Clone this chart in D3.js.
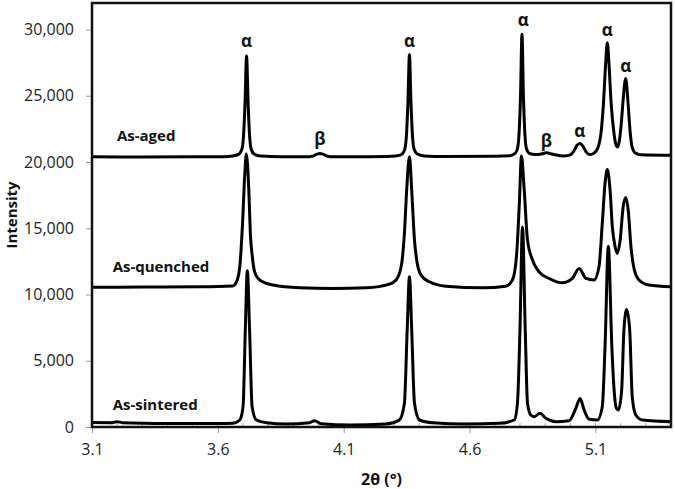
<!DOCTYPE html>
<html>
<head>
<meta charset="utf-8">
<script src="https://cdn.jsdelivr.net/npm/d3@7"></script>
<style>
  body { margin: 0; background: #fff; }
  text { font-family: "Open Sans", sans-serif; }
</style>
</head>
<body>
<div id="chart"></div>
<script>
// XRD patterns, [2θ (°), intensity]
const asAged = [
  [3.100, 20390], [3.300, 20380], [3.500, 20390], [3.620, 20400], [3.660, 20450],
  [3.684, 20600], [3.696, 21000], [3.702, 22000], [3.708, 24500], [3.714, 28000],
  [3.720, 24500], [3.726, 22000], [3.732, 21000], [3.744, 20600], [3.770, 20450],
  [3.850, 20390], [3.950, 20390], [3.975, 20430], [3.993, 20590], [4.005, 20640],
  [4.017, 20590], [4.035, 20440], [4.060, 20390], [4.200, 20400], [4.290, 20430],
  [4.320, 20500], [4.334, 20650], [4.343, 21000], [4.349, 22000], [4.355, 24500],
  [4.361, 28100], [4.367, 24500], [4.373, 22000], [4.379, 21000], [4.391, 20620],
  [4.420, 20460], [4.500, 20420], [4.700, 20440], [4.760, 20480], [4.781, 20650],
  [4.790, 21000], [4.796, 22000], [4.802, 24800], [4.808, 29650], [4.814, 24800],
  [4.820, 22000], [4.826, 21000], [4.838, 20650], [4.860, 20560], [4.885, 20600],
  [4.905, 20690], [4.930, 20590], [4.975, 20460], [5.000, 20540], [5.015, 20850],
  [5.026, 21250], [5.038, 21400], [5.050, 21200], [5.062, 20780], [5.076, 20560],
  [5.092, 20640], [5.110, 21100], [5.122, 22200], [5.132, 24500], [5.140, 27300],
  [5.147, 29000], [5.154, 27300], [5.162, 24500], [5.172, 22400], [5.180, 21400],
  [5.187, 21140], [5.194, 21500], [5.202, 22800], [5.210, 24700], [5.220, 26300],
  [5.230, 24300], [5.238, 22200], [5.246, 21100], [5.258, 20680], [5.280, 20550],
  [5.400, 20510]
];

const asQuenched = [
  [3.100, 10540], [3.300, 10560], [3.528, 10580], [3.659, 10650], [3.674, 10960],
  [3.687, 12090], [3.698, 15360], [3.707, 19130], [3.713, 20600], [3.723, 17870],
  [3.729, 14610], [3.737, 12840], [3.746, 11710], [3.766, 11090], [3.819, 10710],
  [3.925, 10510], [4.056, 10460], [4.189, 10510], [4.282, 10785], [4.308, 11090],
  [4.328, 12090], [4.341, 14610], [4.350, 17870], [4.361, 20400], [4.370, 17870],
  [4.381, 14100], [4.390, 12590], [4.407, 11460], [4.440, 10960], [4.506, 10630],
  [4.652, 10510], [4.744, 10630], [4.770, 11090], [4.786, 12840], [4.797, 16620],
  [4.806, 20450], [4.817, 17870], [4.830, 14100], [4.850, 12590], [4.876, 11710],
  [4.916, 11210], [4.969, 10880], [5.008, 11210], [5.035, 11970], [5.062, 11210],
  [5.094, 11090], [5.114, 12090], [5.127, 15360], [5.138, 18380], [5.147, 19430],
  [5.158, 17870], [5.167, 15100], [5.178, 13600], [5.187, 13100], [5.198, 14100],
  [5.210, 16620], [5.220, 17320], [5.230, 16370], [5.241, 13600], [5.253, 11970],
  [5.273, 11090], [5.312, 10710], [5.400, 10580]
];

const asSintered = [
  [3.100, 340], [3.180, 330], [3.200, 400], [3.220, 330], [3.400, 270],
  [3.600, 260], [3.660, 280], [3.687, 528], [3.700, 1530], [3.709, 7315],
  [3.717, 11790], [3.726, 7315], [3.736, 1530], [3.753, 528], [3.793, 325],
  [3.872, 226], [3.964, 325], [3.984, 475], [4.011, 250], [4.123, 150],
  [4.269, 226], [4.321, 528], [4.341, 1790], [4.352, 7315], [4.361, 11340],
  [4.370, 7315], [4.381, 1790], [4.401, 528], [4.453, 325], [4.586, 226],
  [4.718, 276], [4.777, 528], [4.790, 1790], [4.800, 7315], [4.810, 15100],
  [4.821, 7315], [4.830, 1790], [4.843, 905], [4.857, 780], [4.879, 1030],
  [4.903, 655], [4.943, 400], [4.995, 475], [5.022, 1410], [5.039, 2160],
  [5.055, 1280], [5.075, 580], [5.108, 528], [5.127, 1530], [5.138, 6055],
  [5.151, 13650], [5.165, 6055], [5.174, 2790], [5.183, 1410], [5.191, 1280],
  [5.204, 2790], [5.213, 7315], [5.224, 8875], [5.236, 7315], [5.246, 2285],
  [5.260, 905], [5.286, 528], [5.400, 400]
];

const seriesNames = ["As-aged", "As-quenched", "As-sintered"];
// where each series name sits, in data units [2θ, intensity]
const seriesLabelAt = [[3.199, 22020], [3.182, 12170], [3.182, 1740]];

// phase marks above the peaks
const phaseLabels = [
  { text: "α", at: [3.714, 29140] },
  { text: "β", at: [4.005, 21780] },
  { text: "α", at: [4.361, 29140] },
  { text: "α", at: [4.813, 30750] },
  { text: "β", at: [4.905, 21650] },
  { text: "α", at: [5.038, 22400] },
  { text: "α", at: [5.147, 30000] },
  { text: "α", at: [5.220, 27300] }
];

const xTicks = [3.1, 3.6, 4.1, 4.6, 5.1];
const yTicks = [0, 5000, 10000, 15000, 20000, 25000, 30000];

const margin = { top: 3, right: 4, bottom: 62, left: 92 };
const width = 675 - margin.left - margin.right;
const height = 489 - margin.top - margin.bottom;

const svg = d3.select("#chart").append("svg")
    .attr("width", 675)
    .attr("height", 489);

const g = svg.append("g")
    .attr("transform", `translate(${margin.left},${margin.top})`);

const x = d3.scaleLinear().domain([3.1, 5.4]).range([0, width]);
const y = d3.scaleLinear().domain([0, 32000]).range([height, 0]);

// axes
const yAxis = g.append("g")
    .call(d3.axisLeft(y).tickValues(yTicks).tickFormat(d3.format(",")).tickSize(6).tickPadding(12));
const xAxis = g.append("g")
    .attr("transform", `translate(0,${height})`)
    .call(d3.axisBottom(x).tickValues(xTicks).tickFormat(d3.format(".1f")).tickSize(6).tickPadding(11));

[yAxis, xAxis].forEach(a => {
    a.select(".domain").remove();
    a.selectAll(".tick line").attr("stroke", "#999").attr("stroke-width", 1);
    a.selectAll(".tick text")
        .attr("fill", "#222")
        .style("font-size", "16px")
        .style("font-family", "'Open Sans', sans-serif");
});

// minor ticks on the x axis, drawn inside
g.append("g")
    .selectAll("line")
    .data(d3.range(3.2, 5.39, 0.1))
    .join("line")
    .attr("x1", d => x(d))
    .attr("x2", d => x(d))
    .attr("y1", height)
    .attr("y2", height - 4)
    .attr("stroke", "#aaa")
    .attr("stroke-width", 1);

// the patterns
const line = d3.line()
    .x(d => x(d[0]))
    .y(d => y(d[1]))
    .curve(d3.curveMonotoneX);

g.append("g")
    .selectAll("path")
    .data([asAged, asQuenched, asSintered])
    .join("path")
    .attr("d", line)
    .attr("fill", "none")
    .attr("stroke", "#000")
    .attr("stroke-width", 3)
    .attr("stroke-linejoin", "round");

// plot frame
g.append("rect")
    .attr("width", width)
    .attr("height", height)
    .attr("fill", "none")
    .attr("stroke", "#111")
    .attr("stroke-width", 2.5);

// series names
g.append("g")
    .selectAll("text")
    .data(seriesNames)
    .join("text")
    .attr("x", (d, i) => x(seriesLabelAt[i][0]))
    .attr("y", (d, i) => y(seriesLabelAt[i][1]))
    .attr("dominant-baseline", "central")
    .style("font-size", "15px")
    .style("font-weight", "700")
    .attr("fill", "#111")
    .text(d => d);

// α / β marks
g.append("g")
    .selectAll("text")
    .data(phaseLabels)
    .join("text")
    .attr("x", d => x(d.at[0]))
    .attr("y", d => y(d.at[1]))
    .attr("text-anchor", "middle")
    .attr("dominant-baseline", "central")
    .style("font-size", "17px")
    .style("font-weight", "700")
    .attr("fill", "#111")
    .text(d => d.text);

// axis titles
svg.append("text")
    .attr("x", margin.left + width / 2)
    .attr("y", 485)
    .attr("text-anchor", "middle")
    .style("font-size", "16px")
    .style("font-weight", "700")
    .attr("fill", "#111")
    .text("2θ (°)");

svg.append("text")
    .attr("transform", `translate(17,${margin.top + height / 2}) rotate(-90)`)
    .attr("text-anchor", "middle")
    .style("font-size", "15px")
    .style("font-weight", "700")
    .attr("fill", "#111")
    .text("Intensity");
</script>
</body>
</html>
